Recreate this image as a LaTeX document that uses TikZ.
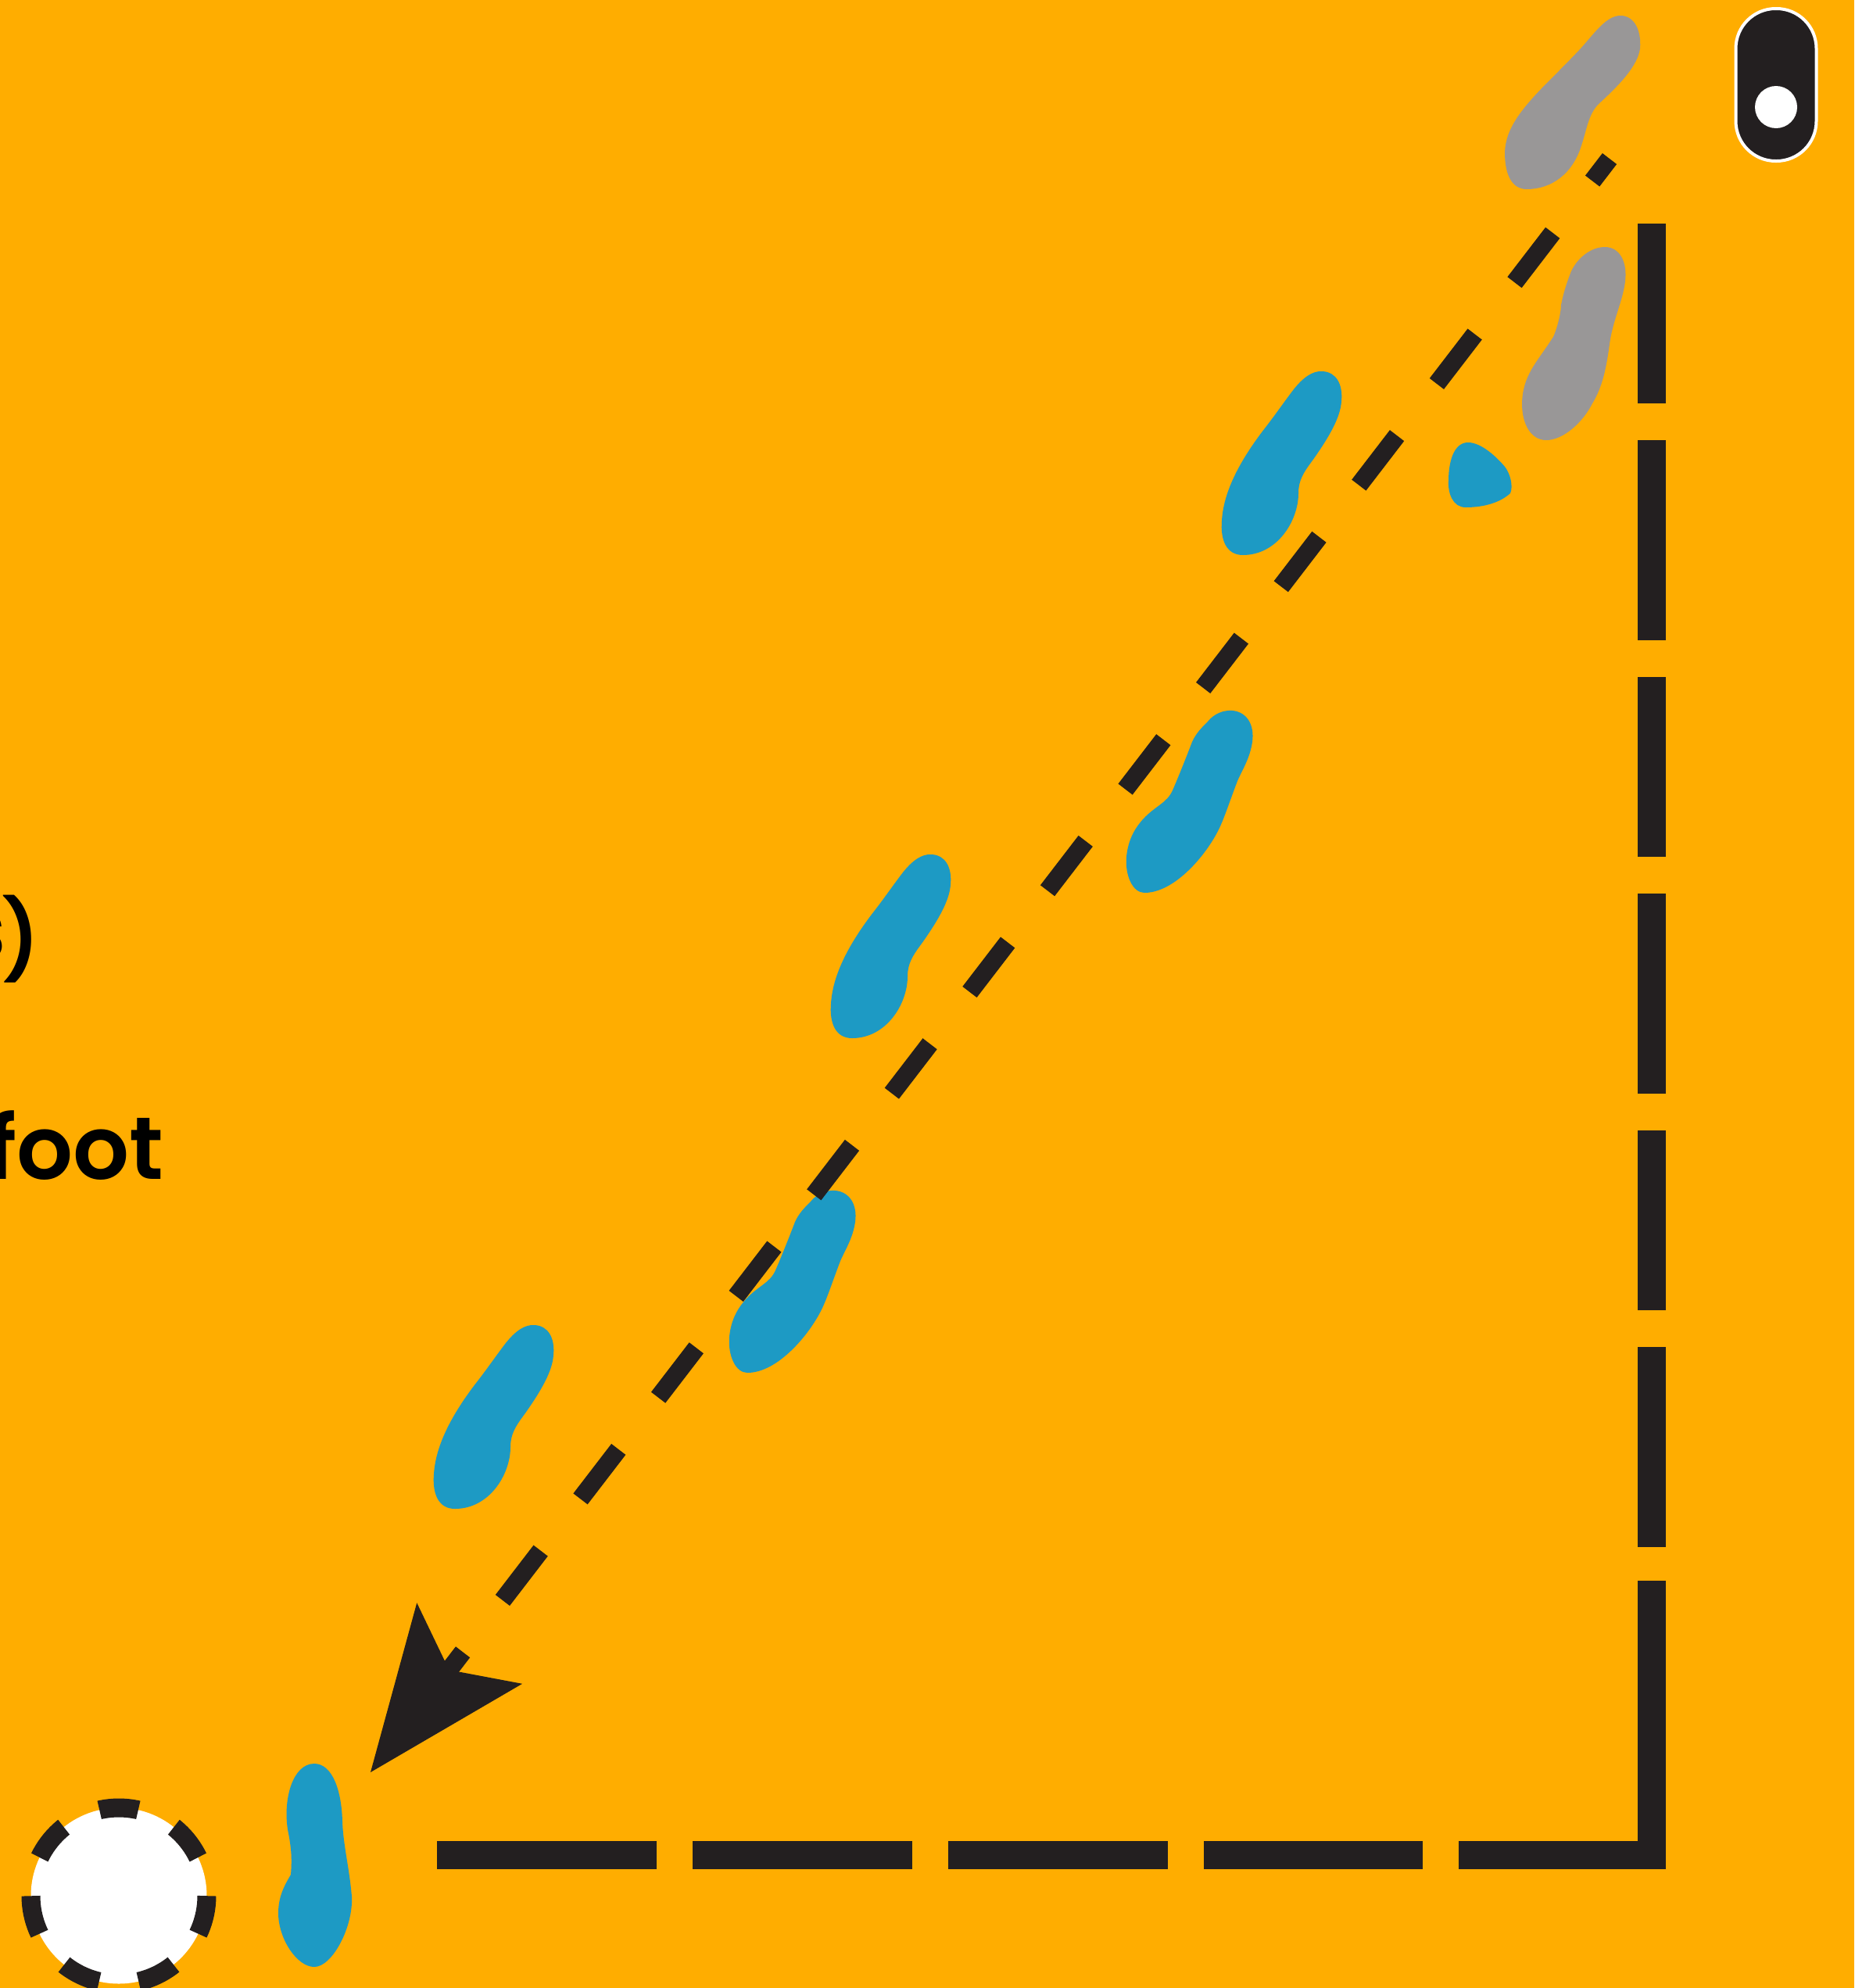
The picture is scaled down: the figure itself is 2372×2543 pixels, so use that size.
\documentclass[tikz,border=0pt]{standalone}
\usepackage{fontspec}
\setmainfont{Poppins SemiBold}
\usetikzlibrary{arrows.meta}
\definecolor{Amber}{HTML}{FFAD00}
\definecolor{Ink}{HTML}{231F20}
\definecolor{Sole}{HTML}{1D9AC4}
\definecolor{Ash}{HTML}{999797}
\tikzset{
  wall/.style={draw=Ink, line width=36pt, miter limit=10},
  pathline/.style={draw=Ink, line width=23pt,
    dash pattern=on 80pt off 83.5pt, dash phase=44pt,
    -{Stealth[length=208pt,width=170pt,inset=43pt,line width=0pt]}},
  spot/.style={circle, fill=white, draw=Ink, line width=24pt, minimum size=225pt,
    inner sep=0pt, outer sep=0pt, dash pattern=on 50pt off 51pt, dash phase=50.3pt},
  caption/.style={anchor=base east, font=\fontsize{113}{113}\selectfont, text=black, inner sep=0pt},
  foota/.pic={
    \fill[Sole] (16,-93) .. controls (28,-108) and (40,-117) .. (53,-116)
      .. controls (70,-115) and (79,-100) .. (77,-78)
      .. controls (76,-58) and (62,-33) .. (40,-2)
      .. controls (28,14) and (22,24) .. (22,40)
      .. controls (22,75) and (-5,119) .. (-49,119)
      .. controls (-70,119) and (-78,100) .. (-76,75)
      .. controls (-74,40) and (-55,0) .. (-18,-47)
      .. controls (-8,-60) and (6,-80) .. (16,-93) -- cycle;
  },
  footb/.pic={
    \fill[Sole] (22,-102) .. controls (30,-112) and (42,-117) .. (54,-116)
      .. controls (72,-114) and (82,-98) .. (79,-76)
      .. controls (76,-55) and (66,-40) .. (60,-26)
      .. controls (50,0) and (42,25) .. (35,38)
      .. controls (20,68) and (-20,117) .. (-59,117)
      .. controls (-74,117) and (-84,95) .. (-82,71)
      .. controls (-80,50) and (-72,35) .. (-60,22)
      .. controls (-45,6) and (-30,2) .. (-23,-14)
      .. controls (-16,-30) and (-4,-60) .. (2,-76)
      .. controls (7,-87) and (14,-94) .. (22,-102) -- cycle;
  }
}

\begin{document}
\begin{tikzpicture}[x=1pt,y=-1pt]
  \useasboundingbox (0,0) rectangle (2372,2543);
  \fill[Amber] (0,0) rectangle (2372,2543);

  \node[caption] (sline) at (51,1228) {s\kern-6pt\raisebox{-9pt}{\fontsize{100}{100}\selectfont )}};
  \node[caption] (footline) at (210,1508) {foot};

  % grey feet
  \fill[Ash] (2023,61) .. controls (2040,42) and (2055,20) .. (2073,20)
    .. controls (2090,20) and (2100,38) .. (2098,62)
    .. controls (2095,85) and (2070,110) .. (2045,133)
    .. controls (2032,146) and (2030,165) .. (2023,186)
    .. controls (2012,222) and (1985,242) .. (1953,242)
    .. controls (1935,242) and (1925,225) .. (1925,195)
    .. controls (1926,165) and (1945,140) .. (1983,102)
    .. controls (1996,89) and (2010,75) .. (2023,61) -- cycle;
  \fill[Ash] (2010,347) .. controls (2018,330) and (2035,316) .. (2053,316)
    .. controls (2072,316) and (2082,335) .. (2079,360)
    .. controls (2076,385) and (2063,410) .. (2059,440)
    .. controls (2055,470) and (2050,495) .. (2037,516)
    .. controls (2025,540) and (2000,563) .. (1978,563)
    .. controls (1960,563) and (1947,545) .. (1947,516)
    .. controls (1948,480) and (1965,465) .. (1987,431)
    .. controls (1992,420) and (1997,400) .. (1997,390)
    .. controls (2000,375) and (2004,362) .. (2010,347) -- cycle;

  % blue feet
  \pic at (1639,591) {foota};
  \pic at (1139,1209) {foota};
  \pic at (631,1811) {foota};
  \pic at (1523,1025) {footb};
  \pic at (1015,1639) {footb};
  \fill[Sole] (1878,566) .. controls (1895,566) and (1915,585) .. (1925,597)
    .. controls (1932,606) and (1936,622) .. (1932,631)
    .. controls (1920,642) and (1900,649) .. (1875,649)
    .. controls (1858,649) and (1852,630) .. (1853,615)
    .. controls (1853,590) and (1860,566) .. (1878,566) -- cycle;
  \fill[Sole] (402,2256) .. controls (425,2256) and (437,2290) .. (438,2330)
    .. controls (439,2360) and (447,2390) .. (450,2426)
    .. controls (452,2465) and (425,2516) .. (402,2516)
    .. controls (380,2516) and (356,2480) .. (356,2447)
    .. controls (356,2425) and (365,2410) .. (372,2398)
    .. controls (374,2375) and (372,2360) .. (368,2340)
    .. controls (362,2300) and (375,2256) .. (402,2256) -- cycle;

  % pin and target
  \node[rectangle, rounded corners=51pt, fill=Ink, draw=white, line width=4pt,
    minimum width=103pt, minimum height=195pt, inner sep=0pt, outer sep=0pt] (pin) at (2272,108.5) {};
  \node[circle, fill=white, minimum size=54pt, inner sep=0pt] (pinhole) at (2272,137) {};
  \node[spot] (target) at (152,2425) {};

  % walls
  \coordinate (walltop) at (2113,286);
  \coordinate (wallgap) at (2113,1979);
  \coordinate (wallend) at (2113,2022);
  \coordinate (corner) at (2113,2373);
  \coordinate (floorend) at (1866,2373);
  \coordinate (floorgap) at (1820,2373);
  \coordinate (floorstart) at (559,2373);
  \draw[wall,dash pattern=on 230pt off 47pt on 256pt off 47pt] (walltop) -- (wallgap);
  \draw[wall] (wallend) -- (corner) -- (floorend);
  \draw[wall,dash pattern=on 281pt off 46pt] (floorstart) -- (floorgap);

  % walking line
  \coordinate (linestart) at (2059,203);
  \coordinate (linetip) at (474,2267);
  \draw[pathline] (linestart) -- (linetip);
\end{tikzpicture}
\end{document}
